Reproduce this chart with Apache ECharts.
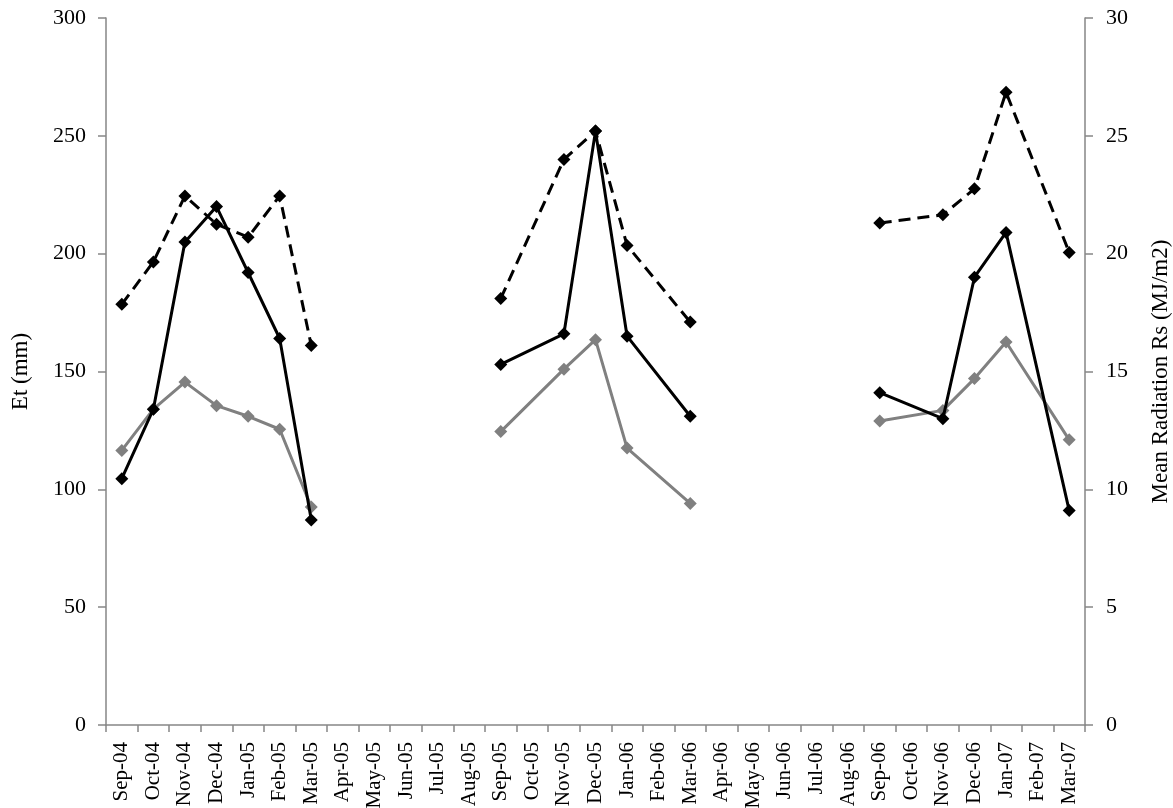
<!DOCTYPE html>
<html>
<head>
<meta charset="utf-8">
<script src="https://cdn.jsdelivr.net/npm/echarts@6/dist/echarts.min.js"></script>
<style>
  html, body { margin: 0; padding: 0; background: #fff; }
  #chart { width: 1173px; height: 808px; }
</style>
</head>
<body>
<div id="chart"></div>
<script>
const months = ["Sep-04","Oct-04","Nov-04","Dec-04","Jan-05","Feb-05","Mar-05","Apr-05","May-05","Jun-05","Jul-05","Aug-05",
  "Sep-05","Oct-05","Nov-05","Dec-05","Jan-06","Feb-06","Mar-06","Apr-06","May-06","Jun-06","Jul-06","Aug-06",
  "Sep-06","Oct-06","Nov-06","Dec-06","Jan-07","Feb-07","Mar-07"];

// Et (mm), black solid line
const etBlack = [104.5,134,205,220,192,164,87,null,null,null,null,null,
  153,null,166,252,165,null,131,null,null,null,null,null,
  141,null,130,190,209,null,91];

// Et (mm), grey solid line
const etGrey = [116.5,134,145.5,135.5,131,125.5,92.5,null,null,null,null,null,
  124.5,null,151,163.5,117.5,null,94,null,null,null,null,null,
  129,null,133.5,147,162.5,null,121];

// Mean radiation Rs (MJ/m2), black dashed line
const radiation = [17.85,19.65,22.45,21.25,20.7,22.45,16.1,null,null,null,null,null,
  18.1,null,24.0,25.2,20.35,null,17.1,null,null,null,null,null,
  21.3,null,21.65,22.75,26.85,null,20.05];

// measurement seasons (first and last month index); lines join across missing months only inside a season
const seasons = [[0, 6], [12, 18], [24, 30]];

const etTicks = [0,50,100,150,200,250,300];
const radTicks = [0,5,10,15,20,25,30];

const serif = "Liberation Serif";
const axisGrey = "#868686";

function seasonSeries(values, base) {
  return seasons.map(([a, b]) => Object.assign({}, base, {
    type: 'line', connectNulls: true, showSymbol: true,
    data: values.map((v, i) => (i >= a && i <= b ? v : null))
  }));
}

const series = [].concat(
  seasonSeries(radiation, {
    name: 'Rs', yAxisIndex: 1, symbol: 'diamond', symbolSize: 13,
    lineStyle: { color: '#000', width: 3, type: [12, 7] },
    itemStyle: { color: '#000' }, z: 3
  }),
  seasonSeries(etGrey, {
    name: 'Et grey', yAxisIndex: 0, symbol: 'diamond', symbolSize: 13,
    lineStyle: { color: '#808080', width: 3 },
    itemStyle: { color: '#808080' }, z: 2
  }),
  seasonSeries(etBlack, {
    name: 'Et black', yAxisIndex: 0, symbol: 'diamond', symbolSize: 13,
    lineStyle: { color: '#000', width: 3 },
    itemStyle: { color: '#000' }, z: 4
  })
);

const chart = echarts.init(document.getElementById('chart'), null, {renderer: 'canvas'});
chart.setOption({
  animation: false,
  backgroundColor: '#fff',
  grid: { left: 106, right: 88, top: 18, bottom: 83, containLabel: false, outerBoundsMode: 'none' },
  xAxis: {
    type: 'category',
    data: months,
    boundaryGap: true,
    axisLine: { show: true, lineStyle: { color: axisGrey, width: 1.5 } },
    axisTick: { show: true, alignWithLabel: false, interval: 0, length: 7, lineStyle: { color: axisGrey, width: 1.5 } },
    axisLabel: { interval: 0, rotate: 90, margin: 17, fontFamily: serif, fontSize: 21, color: '#000' },
    splitLine: { show: false }
  },
  yAxis: [
    {
      type: 'value', position: 'left',
      min: etTicks[0], max: etTicks[etTicks.length - 1], interval: 50,
      name: 'Et (mm)', nameLocation: 'middle', nameGap: 74,
      nameTextStyle: { fontFamily: serif, fontSize: 23, color: '#000' },
      axisLine: { show: true, lineStyle: { color: axisGrey, width: 1.5 } },
      axisTick: { show: true, length: 8, lineStyle: { color: axisGrey, width: 1.5 } },
      axisLabel: { margin: 20, fontFamily: serif, fontSize: 22, color: '#000' },
      splitLine: { show: false }
    },
    {
      type: 'value', position: 'right',
      min: radTicks[0], max: radTicks[radTicks.length - 1], interval: 5,
      name: 'Mean Radiation Rs (MJ/m2)', nameLocation: 'middle', nameGap: 64,
      nameTextStyle: { fontFamily: serif, fontSize: 23, color: '#000' },
      axisLine: { show: true, lineStyle: { color: axisGrey, width: 1.5 } },
      axisTick: { show: true, length: 8, lineStyle: { color: axisGrey, width: 1.5 } },
      axisLabel: { margin: 21, fontFamily: serif, fontSize: 22, color: '#000' },
      splitLine: { show: false }
    }
  ],
  series: series
});
</script>
</body>
</html>
